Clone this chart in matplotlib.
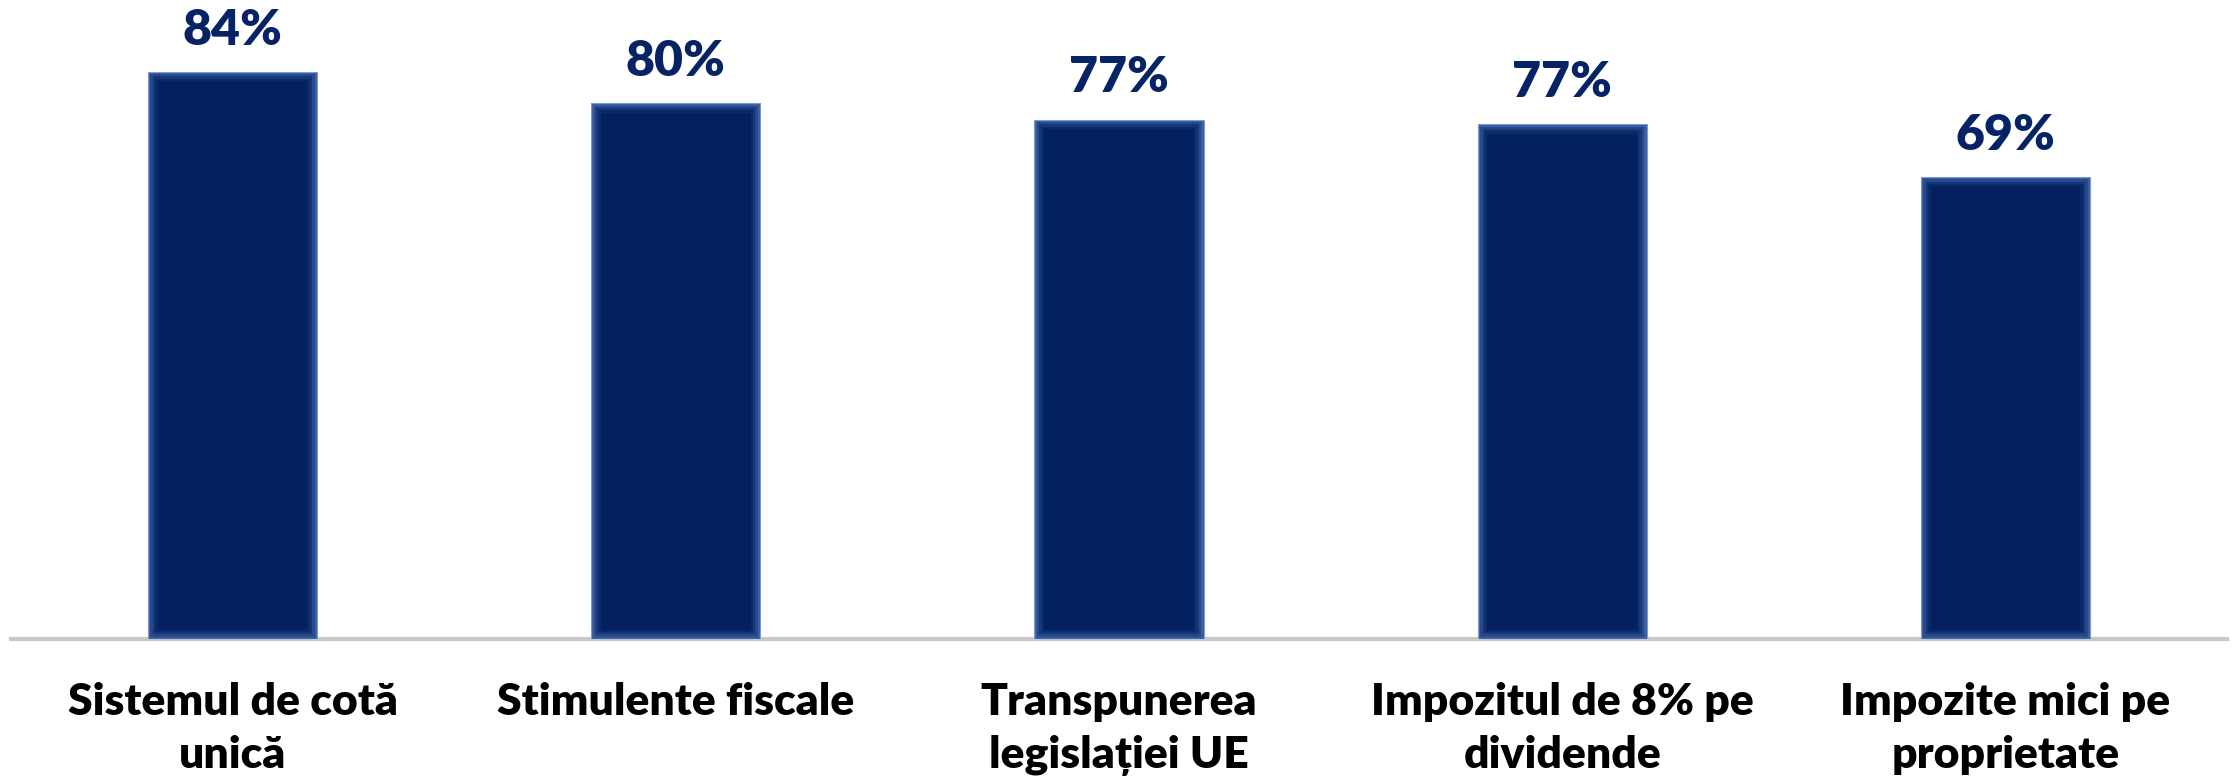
import matplotlib.pyplot as plt
import numpy as np

# categories and values
categories = ["Sistemul de cotă\nunică", "Stimulente fiscale",
              "Transpunerea\nlegislației UE", "Impozitul de 8% pe\ndividende",
              "Impozite mici pe\nproprietate"]
values = [84.0, 79.3, 76.9, 76.2, 68.4]
value_labels = ["84%", "80%", "77%", "77%", "69%"]

navy = "#03205f"
glow = ["#3a5ea3", "#28498c", "#163777", "#0a2a69"]

plt.rcParams['font.family'] = ['Lato', 'DejaVu Sans']

fig = plt.figure(figsize=(22.36, 7.81), dpi=100)
ax = fig.add_axes([11 / 2236, 1 - 639 / 781, 2216 / 2236, 639 / 781])

x = np.arange(len(categories))
width = 0.3815
ymax = 94.6

# outer bar with thin light edge, then darker layers inside to fake the glow
ax.bar(x, values, width=width, color=glow[0], edgecolor="#7e9bd0",
       linewidth=0.8, zorder=2)
for i, c in enumerate(glow[1:] + [navy]):
    dx = 0.0055 * (i + 1)
    dy = 0.35 * (i + 1)
    ax.bar(x, np.array(values) - 2 * dy, bottom=dy, width=width - 2 * dx,
           color=c, linewidth=0, zorder=3 + i)

for xi, v, lab in zip(x, values, value_labels):
    ax.annotate(lab, (xi, v), xytext=(0, 19.5), textcoords="offset points",
                ha="center", va="baseline", fontsize=36, fontweight="heavy",
                color="#062365")

ax.set_xlim(-0.5, len(categories) - 0.5)
ax.set_ylim(0, ymax)
ax.set_yticks([])
ax.set_xticks(x)
ax.set_xticklabels(categories, fontsize=32, fontweight="heavy", color="black",
                   linespacing=1.4)
ax.tick_params(axis="x", length=0, pad=31)

for side in ["top", "right", "left"]:
    ax.spines[side].set_visible(False)
ax.spines["bottom"].set_color("#c8c8c8")
ax.spines["bottom"].set_linewidth(3)
ax.spines["bottom"].set_zorder(1)

fig.savefig("out.png", dpi=100)
